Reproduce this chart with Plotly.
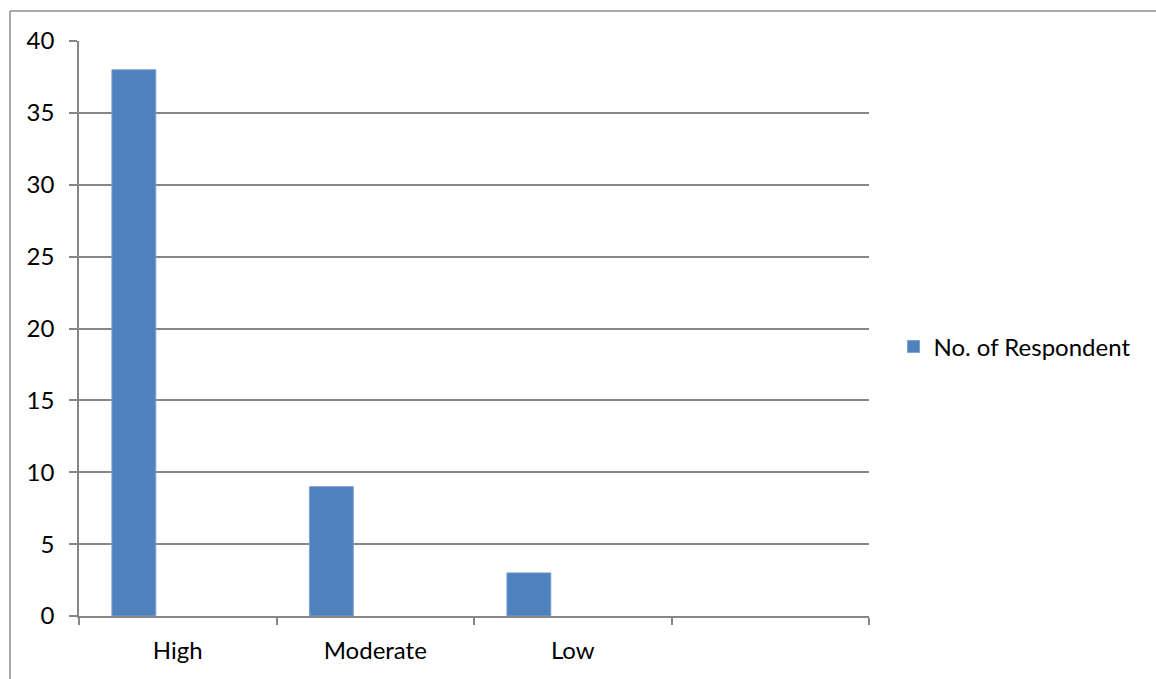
import plotly.graph_objects as go

# Respondent counts per level
categories = ["High", "Moderate", "Low", " "]
respondents = [38, 9, 3, None]
series_name = "No. of Respondent"

y_ticks = [0, 5, 10, 15, 20, 25, 30, 35, 40]

GRID = "#868686"
BAR = "#4F81BD"
FONT = dict(family="Lato, 'Open Sans', sans-serif", size=24, color="#000000")

fig = go.Figure()
fig.add_trace(go.Bar(
    x=categories,
    y=respondents,
    name=series_name,
    marker=dict(color=BAR, line=dict(color="#7EA1CF", width=1)),
    offset=-1 / 3,
    width=2 / 9,
    showlegend=True,
))

fig.update_layout(
    width=1156,
    height=679,
    margin=dict(l=79, r=287, t=41, b=63),
    paper_bgcolor="white",
    plot_bgcolor="white",
    font=FONT,
    showlegend=True,
    legend=dict(
        x=1.031, y=0.468, xanchor="left", yanchor="middle",
        bgcolor="rgba(0,0,0,0)", font=FONT,
        itemwidth=30,
    ),
    xaxis=dict(
        type="category",
        categoryorder="array",
        categoryarray=categories,
        range=[-0.5, 3.5],
        tickson="boundaries",
        ticks="outside",
        ticklen=7,
        tickwidth=1.5,
        tickcolor=GRID,
        showline=True,
        linecolor=GRID,
        linewidth=1.5,
        showgrid=False,
        ticklabelstandoff=12,
        fixedrange=True,
    ),
    yaxis=dict(
        range=[0, 40],
        tickvals=y_ticks,
        ticks="outside",
        ticklen=8,
        tickwidth=1.5,
        tickcolor=GRID,
        showline=True,
        linecolor=GRID,
        linewidth=1.5,
        showgrid=True,
        gridcolor=GRID,
        gridwidth=1.5,
        zeroline=False,
        ticklabelstandoff=10,
        fixedrange=True,
    ),
)

# Chart-area frame along the top and left edges
fig.add_shape(type="line", xref="paper", yref="paper",
              x0=(10 - 79) / 790, x1=(1160 - 79) / 790,
              y0=(616 - 11) / 575, y1=(616 - 11) / 575,
              line=dict(color="#8C8C8C", width=1.5))
fig.add_shape(type="line", xref="paper", yref="paper",
              x0=(10 - 79) / 790, x1=(10 - 79) / 790,
              y0=(616 - 11) / 575, y1=(616 - 690) / 575,
              line=dict(color="#8C8C8C", width=1.5))

fig.write_html("out.html", config={"displayModeBar": False})
